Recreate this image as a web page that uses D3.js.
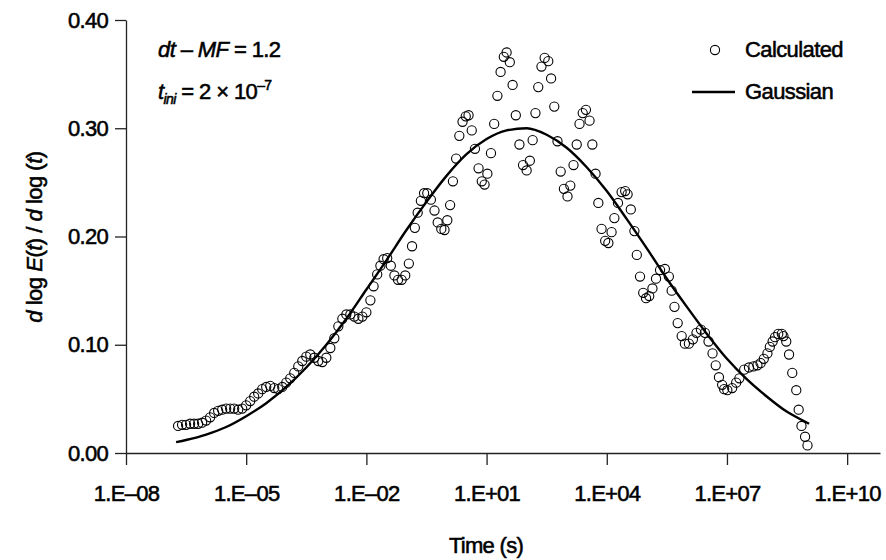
<!DOCTYPE html>
<html>
<head>
<meta charset="utf-8">
<script src="https://cdn.jsdelivr.net/npm/d3@7"></script>
<style>
  body { margin: 0; background: #fff; }
  text { font-family: "Liberation Sans", Arial, sans-serif; fill: #000; stroke: #000; stroke-width: 0.55px; }
</style>
</head>
<body>
<div id="chart-container"></div>
<script>
// calculated points, log10(t) and value
const calcLogT = [
  -6.70, -6.60, -6.50, -6.40, -6.30, -6.20, -6.10, -6.00, -5.90, -5.80,
  -5.70, -5.60, -5.50, -5.40, -5.30, -5.20, -5.10, -5.00, -4.90, -4.80,
  -4.70, -4.60, -4.50, -4.40, -4.30, -4.20, -4.10, -4.00, -3.90, -3.80,
  -3.70, -3.60, -3.50, -3.40, -3.30, -3.20, -3.10, -3.00, -2.90, -2.80,
  -2.70, -2.60, -2.50, -2.40, -2.30, -2.20, -2.10, -2.00, -1.90, -1.82,
  -1.73, -1.65, -1.57, -1.48, -1.39, -1.30, -1.21, -1.12, -1.03, -0.94,
  -0.86, -0.79, -0.72, -0.64, -0.56, -0.48, -0.39, -0.30, -0.22, -0.13,
  -0.05, 0.02, 0.09, 0.16, 0.24, 0.32, 0.40, 0.48, 0.55, 0.63,
  0.71, 0.80, 0.88, 0.95, 1.02, 1.11, 1.19, 1.27, 1.35, 1.43,
  1.50, 1.58, 1.65, 1.73, 1.82, 1.91, 2.00, 2.08, 2.15, 2.22,
  2.29, 2.37, 2.45, 2.54, 2.61, 2.69, 2.77, 2.85, 2.93, 3.02,
  3.09, 3.17, 3.25, 3.32, 3.40, 3.48, 3.57, 3.64, 3.72, 3.79,
  3.87, 3.96, 4.04, 4.12, 4.19, 4.28, 4.37, 4.46, 4.52, 4.60,
  4.69, 4.75, 4.83, 4.91, 4.98, 5.06, 5.14, 5.23, 5.33, 5.45,
  5.55, 5.62, 5.69, 5.77, 5.87, 5.95, 6.05, 6.15, 6.24, 6.35,
  6.45, 6.54, 6.64, 6.72, 6.80, 6.88, 6.93, 7.01, 7.13, 7.23,
  7.31, 7.43, 7.55, 7.66, 7.76, 7.84, 7.92, 8.01, 8.07, 8.14,
  8.20, 8.28, 8.37, 8.41, 8.48, 8.55, 8.63, 8.73, 8.79, 8.86,
  8.95, 9.01
];
const calcValues = [
  0.025, 0.026, 0.026, 0.027, 0.027, 0.027, 0.028, 0.030, 0.033, 0.037,
  0.039, 0.040, 0.041, 0.041, 0.041, 0.040, 0.041, 0.044, 0.048, 0.052,
  0.055, 0.059, 0.061, 0.062, 0.060, 0.059, 0.061, 0.065, 0.069, 0.074,
  0.080, 0.085, 0.089, 0.091, 0.088, 0.085, 0.084, 0.088, 0.097, 0.106,
  0.117, 0.124, 0.128, 0.128, 0.126, 0.124, 0.126, 0.130, 0.141, 0.154,
  0.165, 0.173, 0.179, 0.180, 0.173, 0.164, 0.160, 0.160, 0.164, 0.175,
  0.191, 0.208, 0.222, 0.233, 0.240, 0.240, 0.234, 0.224, 0.213, 0.207,
  0.206, 0.215, 0.229, 0.251, 0.272, 0.293, 0.306, 0.311, 0.312, 0.298,
  0.281, 0.263, 0.251, 0.248, 0.258, 0.277, 0.304, 0.330, 0.352, 0.366,
  0.370, 0.361, 0.340, 0.312, 0.285, 0.266, 0.261, 0.270, 0.289, 0.314,
  0.338, 0.357, 0.365, 0.362, 0.346, 0.320, 0.288, 0.260, 0.244, 0.237,
  0.247, 0.266, 0.285, 0.304, 0.314, 0.317, 0.307, 0.285, 0.258, 0.231,
  0.207, 0.196, 0.194, 0.204, 0.217, 0.231, 0.241, 0.242, 0.239, 0.225,
  0.205, 0.183, 0.163, 0.148, 0.143, 0.145, 0.152, 0.161, 0.169, 0.170,
  0.163, 0.150, 0.135, 0.120, 0.108, 0.101, 0.101, 0.105, 0.111, 0.114,
  0.111, 0.103, 0.092, 0.081, 0.070, 0.063, 0.059, 0.058, 0.060, 0.065,
  0.069, 0.077, 0.079, 0.080, 0.081, 0.083, 0.087, 0.092, 0.098, 0.103,
  0.107, 0.110, 0.110, 0.108, 0.103, 0.091, 0.074, 0.058, 0.040, 0.025,
  0.015, 0.007
];

// gaussian fit line
const gaussLogT = [
  -6.75, -6.5, -6.0, -5.5, -5.0, -4.5, -4.0, -3.5, -3.0, -2.5,
  -2.0, -1.5, -1.0, -0.5, 0.0, 0.5, 1.0, 1.5, 2.0, 2.5,
  3.0, 3.5, 4.0, 4.5, 5.0, 5.5, 6.0, 6.5, 7.0, 7.5,
  8.0, 8.5, 9.0, 9.05
];
const gaussValues = [
  0.010, 0.012, 0.017, 0.024, 0.034, 0.046, 0.061, 0.079, 0.100, 0.124,
  0.151, 0.178, 0.206, 0.232, 0.256, 0.276, 0.290, 0.298, 0.300, 0.294,
  0.282, 0.264, 0.242, 0.216, 0.189, 0.161, 0.135, 0.110, 0.087, 0.068,
  0.052, 0.038, 0.028, 0.027
];

const xTickExp = [-8, -5, -2, 1, 4, 7, 10];
const yTicks = [0, 0.1, 0.2, 0.3, 0.4];

const width = 886, height = 560;

const svg = d3.select("#chart-container")
  .append("svg")
  .attr("width", width)
  .attr("height", height);

const xScale = d3.scaleLog()
  .domain([1e-8, Math.pow(10, 10.82)])
  .range([126, 880]);

const yScale = d3.scaleLinear()
  .domain([0, 0.4])
  .range([453, 20]);

const fmtX = (d) => {
  const e = Math.round(Math.log10(d));
  const s = String(Math.abs(e)).padStart(2, "0");
  return "1.E" + (e < 0 ? "\u2013" : "+") + s;
};

// x axis
const xAxis = svg.append("g")
  .attr("transform", `translate(0,${yScale(0)})`)
  .call(d3.axisBottom(xScale)
    .tickValues(xTickExp.map((e) => Math.pow(10, e)))
    .tickFormat(fmtX)
    .tickSize(12)
    .tickSizeOuter(0)
    .tickPadding(20));

// y axis
const yAxis = svg.append("g")
  .attr("transform", `translate(${xScale(1e-8)},0)`)
  .call(d3.axisLeft(yScale)
    .tickValues(yTicks)
    .tickFormat(d3.format(".2f"))
    .tickSize(11)
    .tickSizeOuter(0)
    .tickPadding(7));

[xAxis, yAxis].forEach((ax) => {
  ax.selectAll("path, line").attr("stroke", "#222").attr("stroke-width", 1.3);
  ax.selectAll("text")
    .style("font-size", "22px")
    .style("letter-spacing", "-0.7px")
    .attr("fill", "#000");
});

// axis titles
svg.append("text")
  .attr("x", 486)
  .attr("y", 553)
  .attr("text-anchor", "middle")
  .style("font-size", "22px")
  .style("letter-spacing", "-0.7px")
  .text("Time (s)");

const yTitle = svg.append("text")
  .attr("transform", "translate(42,237) rotate(-90)")
  .attr("text-anchor", "middle")
  .style("font-size", "22px")
  .style("letter-spacing", "-0.5px");
yTitle.append("tspan").style("font-style", "italic").text("d");
yTitle.append("tspan").text(" log ");
yTitle.append("tspan").style("font-style", "italic").text("E");
yTitle.append("tspan").text("(");
yTitle.append("tspan").style("font-style", "italic").text("t");
yTitle.append("tspan").text(") / ");
yTitle.append("tspan").style("font-style", "italic").text("d");
yTitle.append("tspan").text(" log (");
yTitle.append("tspan").style("font-style", "italic").text("t");
yTitle.append("tspan").text(")");

// gaussian line
const line = d3.line()
  .x((d, i) => xScale(Math.pow(10, gaussLogT[i])))
  .y((d) => yScale(d))
  .curve(d3.curveMonotoneX);

svg.append("path")
  .datum(gaussValues)
  .attr("fill", "none")
  .attr("stroke", "#000")
  .attr("stroke-width", 2.4)
  .attr("d", line);

// calculated points
svg.append("g")
  .selectAll("circle")
  .data(calcValues)
  .join("circle")
  .attr("cx", (d, i) => xScale(Math.pow(10, calcLogT[i])))
  .attr("cy", (d) => yScale(d))
  .attr("r", 4.6)
  .attr("fill", "none")
  .attr("stroke", "#000")
  .attr("stroke-width", 1.1);

// annotation
const note1 = svg.append("text")
  .attr("x", 158).attr("y", 57)
  .style("font-size", "22px")
  .style("letter-spacing", "-0.6px");
note1.append("tspan").style("font-style", "italic").text("dt");
note1.append("tspan").text(" \u2013 ");
note1.append("tspan").style("font-style", "italic").text("MF");
note1.append("tspan").text(" = 1.2");

const note2 = svg.append("text")
  .attr("x", 158).attr("y", 99)
  .style("font-size", "22px")
  .style("letter-spacing", "-0.6px");
note2.append("tspan").style("font-style", "italic").text("t");
note2.append("tspan").style("font-style", "italic").style("font-size", "14px").attr("dy", 5).text("ini");
note2.append("tspan").attr("dy", -5).text(" = 2 \u00d7 10");
note2.append("tspan").style("font-size", "14px").attr("dy", -9).text("\u20137");

// legend
svg.append("circle")
  .attr("cx", 715).attr("cy", 50).attr("r", 4.6)
  .attr("fill", "none").attr("stroke", "#000").attr("stroke-width", 1.1);
svg.append("text")
  .attr("x", 745).attr("y", 57)
  .style("font-size", "22px")
  .style("letter-spacing", "-0.6px")
  .text("Calculated");
svg.append("line")
  .attr("x1", 692).attr("x2", 735).attr("y1", 92).attr("y2", 92)
  .attr("stroke", "#000").attr("stroke-width", 2.4);
svg.append("text")
  .attr("x", 745).attr("y", 99)
  .style("font-size", "22px")
  .style("letter-spacing", "-0.6px")
  .text("Gaussian");
</script>
</body>
</html>
